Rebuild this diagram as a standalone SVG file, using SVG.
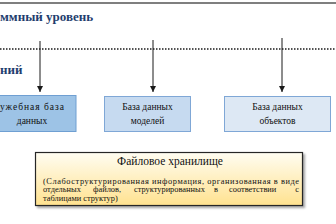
<svg xmlns="http://www.w3.org/2000/svg" width="336" height="224" viewBox="0 0 336 224">
<style>
.hdr{font-family:"Liberation Serif","Times New Roman","DejaVu Serif",serif;font-weight:bold;font-size:13px;fill:#1f3e6e}
.bt{font-family:"Liberation Serif","Times New Roman","DejaVu Serif",serif;font-size:9.5px;fill:#111;text-anchor:middle}
.ft{font-family:"Liberation Serif","Times New Roman","DejaVu Serif",serif;font-size:8.4px;fill:#111}
.conn{stroke:#1a1a1a;stroke-width:1;fill:none}
</style>
<defs>
<marker id="ah" viewBox="0 0 8 8" refX="8" refY="4" markerWidth="6" markerHeight="6" markerUnits="userSpaceOnUse" orient="auto">
<path d="M0,0 L8,4 L0,8 z" fill="#1a1a1a"/>
</marker>
<linearGradient id="yg" x1="0" y1="0" x2="0" y2="1">
<stop offset="0" stop-color="#fffdf2"/>
<stop offset="1" stop-color="#ffe28f"/>
</linearGradient>
<filter id="sh" x="-5%" y="-10%" width="115%" height="130%">
<feDropShadow dx="2" dy="2" stdDeviation="1.2" flood-color="#000" flood-opacity="0.35"/>
</filter>
</defs>
<line x1="0" y1="3" x2="336" y2="3" stroke="#7f7f7f" stroke-width="2"/>
<text class="hdr" x="0" y="21">ммный уровень</text>
<line x1="0" y1="49" x2="336" y2="49" stroke="#1a1a1a" stroke-width="1.5" stroke-dasharray="1.5 1.5"/>
<text class="hdr" x="0" y="74">ний</text>
<g id="connectors">
<line class="conn" x1="40" y1="41" x2="40" y2="92" marker-end="url(#ah)"/>
<line class="conn" x1="153" y1="40" x2="153" y2="92" marker-end="url(#ah)"/>
<line class="conn" x1="282" y1="38" x2="282" y2="92" marker-end="url(#ah)"/>
</g>
<g id="n1">
<rect x="-20" y="95.5" width="96" height="36" fill="#9dc3e6" stroke="#6f9fd2" stroke-width="1"/>
<text class="bt" x="0" y="110" style="text-anchor:start" textLength="64" lengthAdjust="spacing">ужебная база</text>
<text class="bt" x="32" y="124">данных</text>
</g>
<g id="n2">
<rect x="104.5" y="96.5" width="86" height="35" fill="#c6daf0" stroke="#7fa7d6" stroke-width="1"/>
<text class="bt" x="147.5" y="110">База данных</text>
<text class="bt" x="147.5" y="124">моделей</text>
</g>
<g id="n3">
<rect x="224.5" y="96.5" width="106" height="35" fill="#dde8f4" stroke="#7fa7d6" stroke-width="1"/>
<text class="bt" x="277.5" y="110">База данных</text>
<text class="bt" x="277.5" y="124">объектов</text>
</g>
<g id="n4">
<rect x="35.5" y="152.5" width="267" height="53" fill="url(#yg)" stroke="#262626" stroke-width="1.2" filter="url(#sh)"/>
<text class="ft" x="170" y="165" text-anchor="middle" style="font-size:11.5px">Файловое хранилище</text>
<text class="ft" x="43" y="183.5" textLength="256" lengthAdjust="spacing">(Слабоструктурированная информация, организованная в виде</text>
<text class="ft" y="192"><tspan x="43">отдельных</tspan><tspan x="93">файлов,</tspan><tspan x="134">структурированных</tspan><tspan x="214">в</tspan><tspan x="229">соответствии</tspan><tspan x="299" text-anchor="end">с</tspan></text>
<text class="ft" x="43" y="200.5">таблицами структур)</text>
</g>
</svg>
